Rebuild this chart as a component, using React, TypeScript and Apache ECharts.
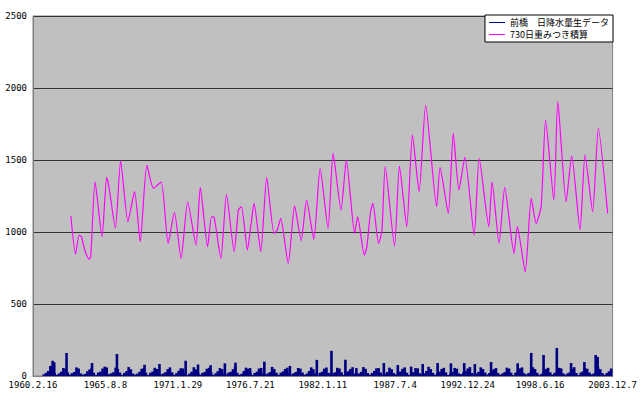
import React, { useEffect, useRef } from "react";
import * as echarts from "echarts";

// X axis: days since 1960.2.16, ticks every 2000 days
const tickLabels = [
  "1960.2.16", "1965.8.8", "1971.1.29", "1976.7.21", "1982.1.11",
  "1987.7.4", "1992.12.24", "1998.6.16", "2003.12.7",
];

// Daily rainfall (mm), sampled every 60 days (typical level in that window)
const rainStep = 60;
const rainBase = [
  0, 0, 0, 0, 0, 12,
  22, 35, 70, 62, 20, 8,
  18, 30, 55, 48, 25, 10,
  20, 28, 60, 52, 18, 9,
  15, 33, 45, 58, 22, 7,
  24, 30, 52, 65, 19, 12,
  19, 26, 58, 50, 24, 8,
  21, 34, 62, 47, 17, 10,
  16, 29, 50, 55, 23, 6,
  23, 31, 57, 49, 20, 11,
  18, 27, 48, 60, 26, 9,
  20, 36, 54, 52, 18, 7,
  17, 30, 61, 46, 21, 10,
  22, 28, 50, 57, 24, 8,
  19, 33, 55, 48, 19, 12,
  24, 29, 47, 62, 22, 9,
  16, 35, 58, 50, 25, 7,
  21, 30, 52, 56, 18, 10,
  18, 27, 63, 49, 23, 8,
  23, 32, 49, 58, 20, 11,
  20, 28, 56, 51, 24, 9,
  17, 34, 60, 47, 19, 6,
  22, 30, 51, 59, 22, 10,
  19, 26, 57, 52, 25, 8,
  24, 33, 48, 61, 18, 12,
  18, 29, 62, 50, 21, 9,
  21, 35, 53, 55, 24, 7,
  16, 28, 58, 47, 20, 11,
  23, 31, 50, 60, 23, 8,
  20, 27, 55, 53, 19, 10,
  18, 34, 64, 48, 22, 9,
  22, 30, 49, 57, 25, 7,
  19, 28, 56, 51, 18, 12,
  24, 33, 52, 62, 21, 8,
  17, 29, 60, 49, 24, 10,
  21, 36, 47, 55, 20, 9,
  18, 27, 58, 52, 23, 6,
  23, 31, 53, 60, 19, 11,
  20, 28, 61, 48, 22, 8,
  16, 34, 50, 57, 25, 10,
  22, 30, 57, 53, 18, 9,
  19, 26, 49, 61, 21, 7,
  24, 32, 55, 50, 24, 12,
  18, 29, 60, 47, 20, 8,
  21, 33, 52,
];

// Notable heavy-rain days: [day, mm]
const rainSpikes: [number, number][] = [
  [542, 106], [586, 95], [926, 160], [1630, 90], [2034, 60], [2317, 153],
  [3079, 78], [3491, 83], [4214, 106], [4555, 80], [4902, 75], [5297, 88],
  [5589, 93], [5993, 55], [6386, 100], [7092, 70], [7835, 112], [8239, 175],
  [8624, 113], [8926, 55], [9685, 90], [10070, 76], [10438, 65], [10757, 83],
  [11169, 90], [11537, 88], [11903, 90], [12197, 83], [12645, 97], [13379, 88],
  [13753, 160], [14094, 146], [14460, 195], [14853, 90], [15221, 97],
  [15532, 146], [15587, 132],
];

// 730-day weighted accumulation: [day, value]
const accum: [number, number][] = [
  [1045, 1111], [1174, 847], [1273, 979], [1339, 967], [1429, 875], [1548, 812],
  [1594, 828], [1713, 1349], [1905, 967], [2034, 1380], [2098, 1310], [2273, 1028],
  [2419, 1493], [2620, 1072], [2804, 1280], [2961, 933], [3142, 1465], [3326, 1303],
  [3538, 1349], [3730, 921], [3904, 1137], [4088, 817], [4269, 1210], [4500, 910],
  [4618, 1310], [4819, 898], [4929, 1106], [5003, 1100], [5187, 817], [5341, 1262],
  [5553, 863], [5671, 1153], [5754, 1176], [5919, 875], [6012, 1042], [6103, 1199],
  [6287, 863], [6452, 1377], [6653, 991], [6743, 1014], [6837, 1095], [7046, 782],
  [7222, 1181], [7403, 940], [7552, 1222], [7752, 949], [7925, 1442], [8145, 1025],
  [8283, 1546], [8503, 1153], [8650, 1500], [8879, 991], [8962, 1106], [9146, 840],
  [9217, 898], [9311, 1130], [9382, 1199], [9539, 921], [9630, 1002], [9723, 1454],
  [9979, 903], [10116, 1458], [10317, 1037], [10474, 1674], [10658, 1280],
  [10839, 1882], [11142, 1176], [11235, 1449], [11463, 1130], [11601, 1685],
  [11757, 1292], [11922, 1519], [12178, 979], [12316, 1512], [12582, 1037],
  [12673, 1349], [12865, 921], [13022, 1310], [13278, 852], [13369, 1037],
  [13588, 724], [13753, 1233], [13891, 1060], [14028, 1181], [14149, 1778],
  [14377, 1222], [14487, 1905], [14715, 1210], [14872, 1528], [15100, 1014],
  [15238, 1535], [15449, 1141], [15606, 1720], [15862, 1130],
];

const rainName = "前橋　日降水量生データ";
const accumName = "730日重みつき積算";

export default function App() {
  const ref = useRef<HTMLDivElement>(null);
  useEffect(() => {
    document.body.style.margin = "0";
    const chart = echarts.init(ref.current!, null, { renderer: "svg" });
    const rainData: [number, number][] = [
      ...rainBase.map((v, i) => [i * rainStep, v] as [number, number]),
      ...rainSpikes,
    ];
    const mono = "DejaVu Sans Mono";
    chart.setOption({
      animation: false,
      backgroundColor: "#ffffff",
      grid: {
        left: 33, right: 24, top: 16, bottom: 23,
        show: true, backgroundColor: "#c0c0c0",
        borderColor: "#808080", borderWidth: 1,
      },
      legend: {
        orient: "vertical",
        right: 27, top: 15,
        backgroundColor: "#ffffff",
        borderColor: "#000000", borderWidth: 1,
        padding: [3, 4],
        itemGap: 3,
        itemWidth: 16, itemHeight: 1,
        textStyle: { fontSize: 9, color: "#000", fontFamily: "Noto Sans CJK JP" },
        data: [
          { name: rainName, icon: "rect", itemStyle: { color: "#000080" } },
          { name: accumName, icon: "rect", itemStyle: { color: "#ff00ff" } },
        ],
      },
      xAxis: {
        type: "value",
        min: 0, max: 16000, interval: 2000,
        axisLine: { show: true, lineStyle: { color: "#808080" } },
        axisTick: { show: false },
        splitLine: { show: false },
        axisLabel: {
          fontSize: 9, color: "#000", fontFamily: mono, margin: 4,
          showMinLabel: true, showMaxLabel: true,
          formatter: (v: number) => tickLabels[Math.round(v / 2000)] ?? "",
        },
      },
      yAxis: {
        type: "value",
        min: 0, max: 2500, interval: 500,
        axisLine: { show: true, lineStyle: { color: "#808080" } },
        axisTick: { show: false },
        splitLine: { show: true, lineStyle: { color: "#333333", width: 1 } },
        axisLabel: {
          fontSize: 9, color: "#000", fontFamily: mono, margin: 6,
          formatter: (v: number) => String(v),
        },
      },
      series: [
        {
          name: rainName,
          type: "bar",
          data: rainData,
          barWidth: 2.6,
          itemStyle: { color: "#000080" },
        },
        {
          name: accumName,
          type: "line",
          data: accum,
          showSymbol: false,
          smooth: 0.2,
          lineStyle: { color: "#ff00ff", width: 1.2 },
          itemStyle: { color: "#ff00ff" },
        },
      ],
    });
    return () => chart.dispose();
  }, []);
  return (
    <div
      ref={ref}
      style={{ position: "fixed", left: 0, top: 0, width: 640, height: 399 }}
    />
  );
}
